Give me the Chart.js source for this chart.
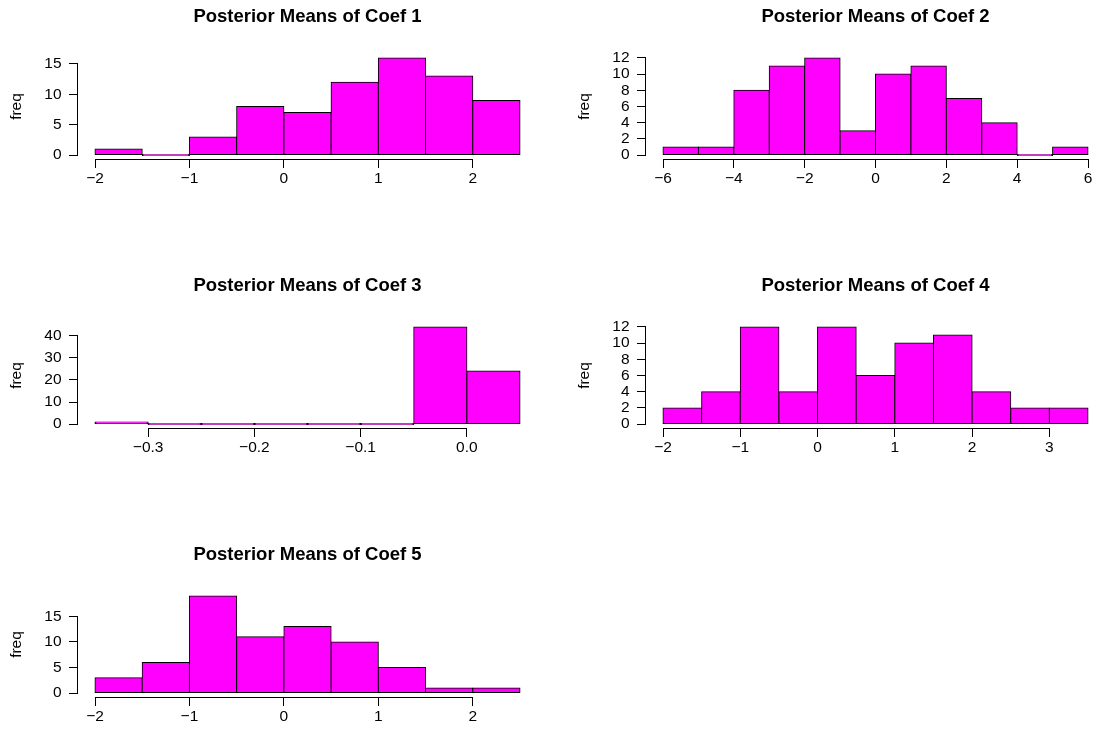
<!DOCTYPE html>
<html>
<head>
<meta charset="utf-8">
<title>Posterior Means of Coefs</title>
<script src="https://cdn.jsdelivr.net/npm/chart.js@4.4.1/dist/chart.umd.min.js"></script>
<style>
    html, body { margin: 0; padding: 0; background: #fff; overflow: hidden; }
    #page { position: relative; width: 1097px; height: 735px; overflow: hidden; background: #fff; }
    #page canvas { position: absolute; }
</style>
</head>
<body>
<div id="page"></div>
<script>
// histogram data
const coef1Breaks = [-2, -1.5, -1, -0.5, 0, 0.5, 1, 1.5, 2, 2.5];
const coef1Counts = [1, 0, 3, 8, 7, 12, 16, 13, 9];
const coef1XTicks = [-2, -1, 0, 1, 2];
const coef1YTicks = [0, 5, 10, 15];

const coef2Breaks = [-6, -5, -4, -3, -2, -1, 0, 1, 2, 3, 4, 5, 6];
const coef2Counts = [1, 1, 8, 11, 12, 3, 10, 11, 7, 4, 0, 1];
const coef2XTicks = [-6, -4, -2, 0, 2, 4, 6];
const coef2YTicks = [0, 2, 4, 6, 8, 10, 12];

const coef3Breaks = [-0.35, -0.3, -0.25, -0.2, -0.15, -0.1, -0.05, 0, 0.05];
const coef3Counts = [1, 0, 0, 0, 0, 0, 44, 24];
const coef3XTicks = [-0.3, -0.2, -0.1, 0];
const coef3YTicks = [0, 10, 20, 30, 40];

const coef4Breaks = [-2, -1.5, -1, -0.5, 0, 0.5, 1, 1.5, 2, 2.5, 3, 3.5];
const coef4Counts = [2, 4, 12, 4, 12, 6, 10, 11, 4, 2, 2];
const coef4XTicks = [-2, -1, 0, 1, 2, 3];
const coef4YTicks = [0, 2, 4, 6, 8, 10, 12];

const coef5Breaks = [-2, -1.5, -1, -0.5, 0, 0.5, 1, 1.5, 2, 2.5];
const coef5Counts = [3, 6, 19, 11, 13, 10, 5, 1, 1];
const coef5XTicks = [-2, -1, 0, 1, 2];
const coef5YTicks = [0, 5, 10, 15];

const titles = [
    'Posterior Means of Coef 1',
    'Posterior Means of Coef 2',
    'Posterior Means of Coef 3',
    'Posterior Means of Coef 4',
    'Posterior Means of Coef 5',
];

Chart.defaults.font.family = "'Liberation Sans', Arial, Helvetica, sans-serif";
Chart.defaults.color = '#000';

const panels = [
    { breaks: coef1Breaks, counts: coef1Counts, xTicks: coef1XTicks, yTicks: coef1YTicks, digits: 0 },
    { breaks: coef2Breaks, counts: coef2Counts, xTicks: coef2XTicks, yTicks: coef2YTicks, digits: 0 },
    { breaks: coef3Breaks, counts: coef3Counts, xTicks: coef3XTicks, yTicks: coef3YTicks, digits: 1 },
    { breaks: coef4Breaks, counts: coef4Counts, xTicks: coef4XTicks, yTicks: coef4YTicks, digits: 0 },
    { breaks: coef5Breaks, counts: coef5Counts, xTicks: coef5XTicks, yTicks: coef5YTicks, digits: 0 },
];

function fmt(v, digits) {
    const s = Math.abs(v).toFixed(digits);
    return (v < -1e-9 ? '\u2212' : '') + s;
}

// R style axes: the line only runs from first to last tick
const axisLines = {
    id: 'axisLines',
    afterDraw(chart) {
        const { ctx, chartArea, scales: { x, y } } = chart;
        const xt = x.ticks;
        const yt = y.ticks;
        ctx.save();
        ctx.strokeStyle = '#000';
        ctx.lineWidth = 1;
        ctx.beginPath();
        const by = Math.round(chartArea.bottom) + 0.5;
        ctx.moveTo(x.getPixelForValue(xt[0].value), by);
        ctx.lineTo(x.getPixelForValue(xt[xt.length - 1].value), by);
        const lx = Math.round(chartArea.left) - 0.5;
        ctx.moveTo(lx, y.getPixelForValue(yt[0].value));
        ctx.lineTo(lx, y.getPixelForValue(yt[yt.length - 1].value));
        ctx.stroke();
        ctx.restore();
    },
};

const page = document.getElementById('page');

panels.forEach((p, i) => {
    const canvas = document.createElement('canvas');
    canvas.width = 548;
    canvas.height = 245;
    canvas.style.left = (i % 2) * 568 + 'px';
    canvas.style.top = Math.floor(i / 2) * 269 + 'px';
    page.appendChild(canvas);

    const lo = p.breaks[0];
    const hi = p.breaks[p.breaks.length - 1];
    const ymax = Math.max(...p.counts);

    new Chart(canvas, {
        type: 'bar',
        data: {
            datasets: [
                {
                    data: p.counts.map((c, k) => ({ x: (p.breaks[k] + p.breaks[k + 1]) / 2, y: c })),
                    backgroundColor: '#ff00ff',
                    borderColor: '#000',
                    borderWidth: 1,
                    borderSkipped: false,
                    barPercentage: 1,
                    categoryPercentage: 1,
                    minBarLength: 1,
                    inflateAmount: 0.5,
                },
            ],
        },
        options: {
            responsive: false,
            animation: false,
            layout: { padding: { left: 0, right: 11, top: 0, bottom: 0 } },
            plugins: {
                legend: { display: false },
                tooltip: { enabled: false },
                title: {
                    display: true,
                    text: titles[i],
                    fullSize: false,
                    font: { size: 18.5, weight: 'bold' },
                    padding: { top: 6, bottom: 25.8 },
                },
            },
            scales: {
                x: {
                    type: 'linear',
                    offset: false,
                    min: lo - 0.04 * (hi - lo),
                    max: hi + 0.04 * (hi - lo),
                    afterBuildTicks: (s) => { s.ticks = p.xTicks.map((v) => ({ value: v })); },
                    afterFit: (s) => { s.height = 86; },
                    grid: { offset: false, drawOnChartArea: false, drawTicks: true, tickLength: 9, color: '#000' },
                    border: { display: false },
                    ticks: {
                        autoSkip: false,
                        maxRotation: 0,
                        padding: 1,
                        font: { size: 15.5 },
                        callback: (v) => fmt(v, p.digits),
                    },
                },
                y: {
                    type: 'linear',
                    min: -0.04 * ymax,
                    max: 1.04 * ymax,
                    afterBuildTicks: (s) => { s.ticks = p.yTicks.map((v) => ({ value: v })); },
                    afterFit: (s) => { s.width = 78; },
                    grid: { drawOnChartArea: false, drawTicks: true, tickLength: 9, color: '#000' },
                    border: { display: false },
                    ticks: {
                        autoSkip: false,
                        padding: 7.5,
                        font: { size: 15.5 },
                        callback: (v) => String(v),
                    },
                    title: {
                        display: true,
                        text: 'freq',
                        font: { size: 15.5 },
                        padding: { top: 7.7, bottom: 0 },
                    },
                },
            },
        },
        plugins: [axisLines],
    });
});
</script>
</body>
</html>
